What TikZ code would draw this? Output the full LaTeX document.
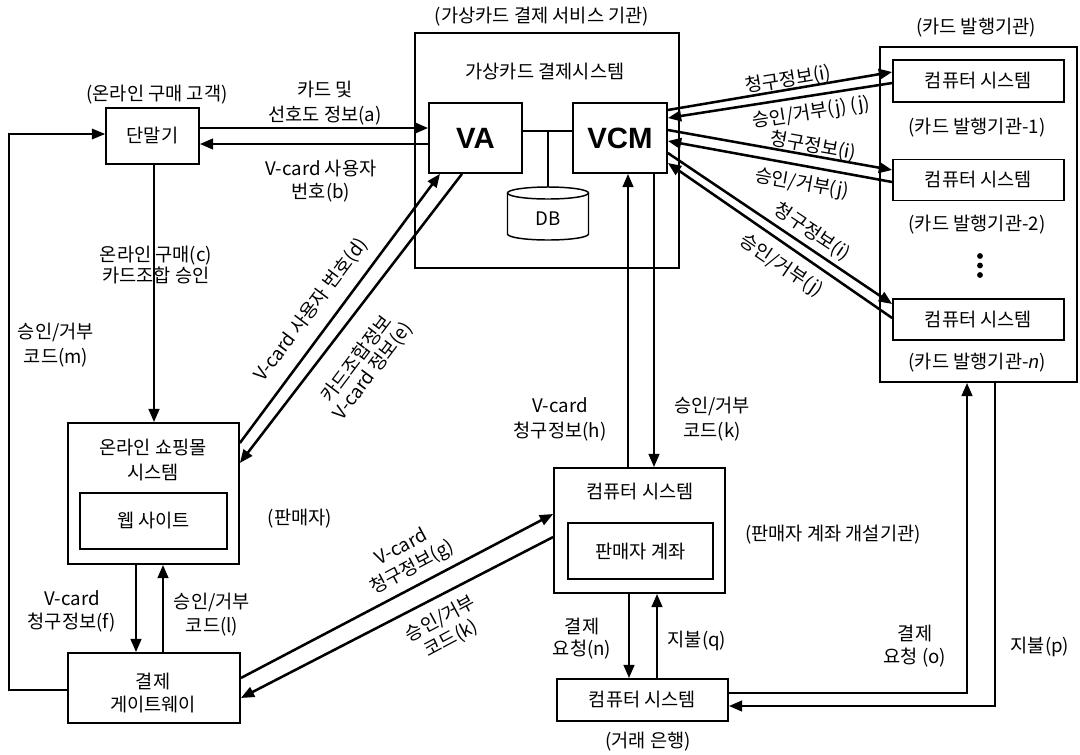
\documentclass[tikz,border=0pt]{standalone}
\usepackage{fontspec}
\setmainfont{Noto Sans CJK KR}
\newfontfamily\latf{Liberation Sans}
\usetikzlibrary{arrows.meta}
\begin{document}
\begin{tikzpicture}[x=0.75pt,y=-0.75pt,
  bx/.style 2 args={draw,line width=1.3pt,minimum width={#1*0.75pt},minimum height={#2*0.75pt},inner sep=0pt},
  lb/.style={inner sep=0pt,align=center,font=\fontsize{14}{18}\selectfont},
  big/.style={font=\latf\bfseries\fontsize{22}{22}\selectfont},
  arr/.style={line width=1.9pt,-{Triangle[length=10pt,width=8pt]}},
  thinl/.style={line width=1.1pt},
  thinarr/.style={line width=1.1pt,-{Triangle[length=10pt,width=8pt]}}
  ]
\useasboundingbox (0,0) rectangle (1080,754);

% ---------- boxes ----------
\node[bx={264}{235}] (vsys) at (547,150.5) {};
\node[bx={197}{335}] (iss) at (978.5,214.5) {};
\node[bx={93}{56},lb] (term) at (152.5,136) {단말기};
\node[bx={93}{70},big] (VA) at (475.5,138) {VA};
\node[bx={94}{70},big] (VCM) at (620,138) {VCM};
\node[bx={171}{42},lb] (cs1) at (978.5,81) {컴퓨터 시스템};
\node[bx={171}{41},lb] (cs2) at (978.5,180) {컴퓨터 시스템};
\node[bx={171}{41},lb] (cs3) at (978.5,319.5) {컴퓨터 시스템};
\node[bx={171}{141}] (shop) at (153.5,493.5) {};
\node[bx={147}{56},lb] (web) at (153.5,521) {웹 사이트};
\node[bx={172}{70}] (gw) at (154,688) {};
\node[bx={171}{125}] (mcs) at (639.5,530.5) {};
\node[bx={145}{56},lb] (acct) at (640.5,551) {판매자 계좌};
\node[bx={171}{42},lb] (bank) at (642.5,700) {컴퓨터 시스템};

% ---------- DB ----------
\coordinate (dbtop) at (548,187);
\draw[thinl] (507.5,193) -- (507.5,234) arc[start angle=180,end angle=360,x radius=30.375pt,y radius=4.5pt] -- (588.5,193);
\draw[thinl] (548,193) ellipse[x radius=30.375pt,y radius=4.5pt];
\node[lb] (DB) at (548,219) {DB};

% ---------- box texts ----------
\node[lb] (vsysl) at (545,72) {가상카드 결제시스템};
\node[lb,font=\fontsize{14}{18.75}\selectfont] (shopl) at (153,460.5) {온라인 쇼핑몰\\시스템};
\node[lb,font=\fontsize{14}{17.25}\selectfont] (gwl) at (153,693.5) {결제\\게이트웨이};
\node[lb] (mcsl) at (640,492) {컴퓨터 시스템};

% ---------- captions ----------
\node[lb] (cust) at (157,95) {(온라인 구매 고객)};
\node[lb] (vsvc) at (542,17) {(가상카드 결제 서비스 기관)};
\node[lb] (issl) at (976,28) {(카드 발행기관)};
\node[lb] (iss1) at (977,128) {(카드 발행기관-1)};
\node[lb] (iss2) at (977,225) {(카드 발행기관-2)};
\node[lb] (issn) at (977,363) {(카드 발행기관-{\latf\itshape n})};
\fill (980,256) circle[radius=2.2pt] (980,265.5) circle[radius=2.2pt] (980,275) circle[radius=2.2pt];
\node[lb] (sell) at (300,519) {(판매자)};
\node[lb] (macq) at (833,535) {(판매자 계좌 개설기관)};
\node[lb] (bnk) at (648,742) {(거래 은행)};

% ---------- connectors ----------
\draw[thinl] (VA.east |- 0,131) -- (VCM.west |- 0,131);
\draw[thinl] (548,131) -- (dbtop);

\draw[arr] (term.east |- 0,128) -- (VA.west |- 0,128);
\draw[arr] (VA.west |- 0,144) -- (term.east |- 0,144);
\draw[arr] (154,0 |- term.south) -- (154,0 |- shop.north);
\coordinate (m1) at (9,690);
\coordinate (m2) at (9,134);
\draw[thinarr] (gw.west |- 0,690) -- (m1) -- (m2) -- (term.west |- 0,134);

\draw[arr] (shop.east |- 0,443) -- (440,0 |- VA.south);
\draw[arr] (462,0 |- VA.south) -- (shop.east |- 0,463);

\draw[arr] (136,0 |- shop.south) -- (136,0 |- gw.north);
\draw[arr] (163,0 |- gw.north) -- (163,0 |- shop.south);

\draw[arr] (gw.east |- 0,678) -- (mcs.west |- 0,514);
\draw[arr] (mcs.west |- 0,537) -- (gw.east |- 0,698);

\draw[arr] (628,0 |- mcs.north) -- (628,0 |- VCM.south);
\draw[arr] (654,0 |- VCM.south) -- (654,0 |- mcs.north);

\draw[arr] (629,0 |- mcs.south) -- (629,0 |- bank.north);
\draw[arr] (657,0 |- bank.north) -- (657,0 |- mcs.south);

\coordinate (o1) at (967,693);
\draw[arr] (bank.east |- 0,693) -- (o1) -- (967,0 |- iss.south);
\coordinate (p1) at (995,706);
\draw[arr] (995,0 |- iss.south) -- (p1) -- (bank.east |- 0,706);

\draw[arr] (VCM.east |- 0,110) -- (cs1.west |- 0,72);
\draw[arr] (cs1.west |- 0,83) -- (VCM.east |- 0,118);
\draw[arr] (VCM.east |- 0,130) -- (cs2.west |- 0,170);
\draw[arr] (cs2.west |- 0,182) -- (VCM.east |- 0,141);
\draw[arr] (VCM.east |- 0,153) -- (cs3.west |- 0,304);
\draw[arr] (cs3.west |- 0,318) -- (VCM.east |- 0,163);

% ---------- connector labels ----------
\node[lb,font=\fontsize{14}{18.75}\selectfont] (la) at (325,103) {카드 및\\선호도 정보(a)};
\node[lb,font=\fontsize{14}{17.25}\selectfont] (lbb) at (321,181.5) {V-card 사용자\\번호(b)};
\node[lb,font=\fontsize{14}{15.75}\selectfont] (lc) at (156,265) {온라인 구매(c)\\카드조합 승인};
\node[lb,font=\fontsize{14}{18.75}\selectfont] (lm) at (56,345.5) {승인/거부\\코드(m)};
\node[lb,rotate=53] (ld) at (311,310) {V-card 사용자 번호(d)};
\node[lb,rotate=53,font=\fontsize{14}{15}\selectfont] (le) at (365,365) {카드조합정보\\V-card 정보(e)};
\node[lb,font=\fontsize{14}{17.25}\selectfont] (lf) at (72,611.5) {V-card\\청구정보(f)};
\node[lb,font=\fontsize{14}{18}\selectfont] (ll) at (212,615) {승인/거부\\코드(l)};
\node[lb,rotate=28,font=\fontsize{14}{17}\selectfont] (lg) at (407,558) {V-card\\청구정보(g)};
\node[lb,rotate=28,font=\fontsize{14}{17}\selectfont] (lk2) at (446,629) {승인/거부\\코드(k)};
\node[lb,font=\fontsize{14}{18.75}\selectfont] (lh) at (560,419.5) {V-card\\청구정보(h)};
\node[lb,font=\fontsize{14}{18.75}\selectfont] (lk) at (712,419.5) {승인/거부\\코드(k)};
\node[lb,font=\fontsize{14}{16.5}\selectfont] (ln) at (582,639) {결제\\요청(n)};
\node[lb] (lq) at (697,641) {지불(q)};
\node[lb,font=\fontsize{14}{17.25}\selectfont] (lo) at (915,646.5) {결제\\요청 (o)};
\node[lb] (lp) at (1040,647) {지불(p)};
\node[lb,rotate=9.5] (li1) at (788,80) {청구정보(i)};
\node[lb,rotate=9] (lj1) at (811,113) {승인/거부(j) (j)};
\node[lb,rotate=-10] (li2) at (813,146) {청구정보(i)};
\node[lb,rotate=-10] (lj2) at (802,184) {승인/거부(j)};
\node[lb,rotate=-33.7] (li3) at (812,232) {청구정보(i)};
\node[lb,rotate=-34] (lj3) at (781,266) {승인/거부(j)};
\end{tikzpicture}
\end{document}
